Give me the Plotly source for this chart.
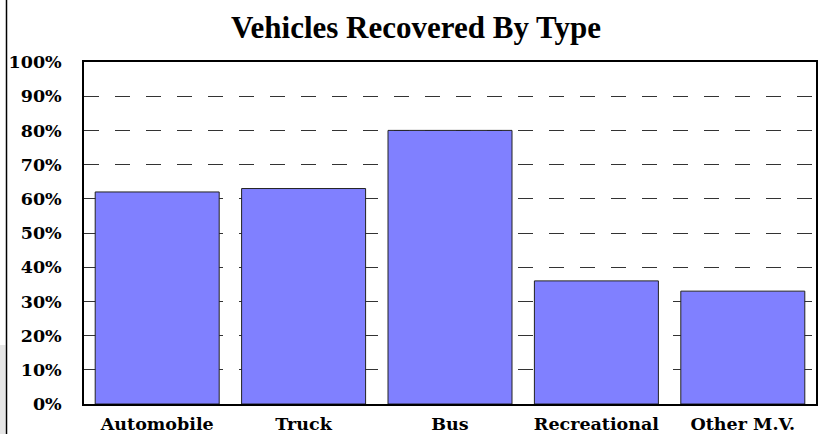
import plotly.graph_objects as go

categories = ["Automobile", "Truck", "Bus", "Recreational", "Other M.V."]
values = [62, 63, 80, 36, 33]
tick_vals = [0, 10, 20, 30, 40, 50, 60, 70, 80, 90, 100]
tick_text = [f"{v}%" for v in tick_vals]

title_font = "Liberation Serif, Times New Roman, serif"
tick_font = "DejaVu Serif, serif"

fig = go.Figure(go.Bar(
    x=categories, y=values,
    marker=dict(color="#8080FF", line=dict(color="#222222", width=1)),
    hoverinfo="skip",
))

fig.update_layout(
    width=822, height=434,
    margin=dict(l=84, r=6, t=62, b=30),
    paper_bgcolor="white", plot_bgcolor="white",
    showlegend=False,
    bargap=0.153,
    title=dict(text="<b>Vehicles Recovered By Type</b>", x=416 / 822, xref="container",
               xanchor="center",
               y=1 - 27 / 434, yanchor="middle",
               font=dict(family=title_font, size=31, color="black")),
    font=dict(family=tick_font, color="black"),
)

fig.update_xaxes(
    showline=True, linecolor="black", linewidth=1.5, mirror=True,
    showgrid=False, ticks="", automargin=False, ticklabelstandoff=3,
    tickfont=dict(family=tick_font, size=17.5, color="black", weight="bold"),
)
fig.update_yaxes(
    range=[0, 100], tickvals=tick_vals, ticktext=tick_text,
    showline=True, linecolor="black", linewidth=1.5, mirror=True,
    showgrid=True, gridcolor="#333333", gridwidth=1, griddash="15px,16px",
    zeroline=False, ticks="", ticklabelstandoff=17, automargin=False,
    tickfont=dict(family=tick_font, size=17.5, color="black", weight="bold"),
)

# outer frame line on the left and grey strip at bottom-left
fig.add_shape(type="rect", xref="paper", yref="paper",
              x0=-84 / 732, x1=(5.5 - 84) / 732, y0=-30 / 342, y1=(404 - 345) / 342,
              fillcolor="#e6e6e6", line=dict(width=0), layer="below")
fig.add_shape(type="line", xref="paper", yref="paper",
              x0=(6.5 - 84) / 732, x1=(6.5 - 84) / 732, y0=-30 / 342, y1=1 + 62 / 342,
              line=dict(color="black", width=1.5))

fig.write_html("out.html", config={"displayModeBar": False},
               post_script="document.body.style.margin='0';")
